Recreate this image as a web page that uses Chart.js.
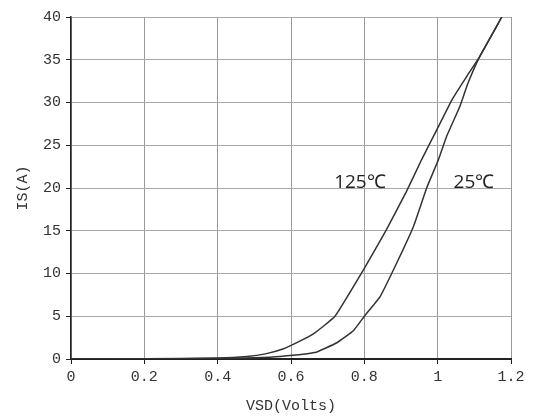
<!DOCTYPE html>
<html>
<head>
<meta charset="utf-8">
<script src="https://cdn.jsdelivr.net/npm/chart.js@4"></script>
<style>
  body { margin: 0; background: #fff; }
  #wrap { width: 537px; height: 417px; }
</style>
</head>
<body>
<div id="wrap"><canvas id="vsdChart" width="537" height="417"></canvas></div>
<script>
    // Source-drain diode forward characteristic
    var vsd125 = [0, 0.2, 0.4, 0.48, 0.53, 0.58, 0.62, 0.66, 0.72, 0.8, 0.86, 0.915, 0.956, 1.0, 1.04, 1.08, 1.115, 1.175];
    var is125 = [0, 0.02, 0.12, 0.3, 0.6, 1.2, 2.0, 2.9, 5.0, 10.6, 15.1, 19.6, 23.3, 27.0, 30.4, 33.1, 35.4, 40];
    var vsd25 = [0, 0.2, 0.4, 0.5, 0.57, 0.665, 0.725, 0.77, 0.8, 0.843, 0.888, 0.934, 0.97, 1.002, 1.025, 1.061, 1.083, 1.115, 1.175];
    var is25 = [0, 0.01, 0.05, 0.15, 0.3, 0.75, 1.9, 3.3, 5.0, 7.3, 11.2, 15.5, 20.0, 23.3, 26.1, 29.6, 32.3, 35.4, 40];
    var curveLabels = ['125℃', '25℃'];
    var xTicks = [0, 0.2, 0.4, 0.6, 0.8, 1, 1.2];

    function toPoints(xs, ys) {
        return xs.map(function (x, i) { return { x: x, y: ys[i] }; });
    }

    // curve names written beside the lines
    var curveText = {
        id: 'curveText',
        afterDatasetsDraw: function (chart) {
            var ctx = chart.ctx;
            var xs = chart.scales.x, ys = chart.scales.y;
            ctx.save();
            ctx.font = '19px "Open Sans"';
            ctx.fillStyle = '#222';
            ctx.textAlign = 'center';
            ctx.textBaseline = 'middle';
            ctx.fillText(curveLabels[0], xs.getPixelForValue(0.788), ys.getPixelForValue(20.6));
            ctx.fillText(curveLabels[1], xs.getPixelForValue(1.099), ys.getPixelForValue(20.6));
            ctx.restore();
        }
    };

    var tickFont = { family: '"Liberation Mono"', size: 15 };

    var ctx = document.getElementById('vsdChart').getContext('2d');
    new Chart(ctx, {
        type: 'scatter',
        data: {
            datasets: [{
                label: curveLabels[0],
                data: toPoints(vsd125, is125),
                showLine: true,
                borderColor: '#333',
                borderWidth: 1.5,
                pointRadius: 0,
                tension: 0.12
            }, {
                label: curveLabels[1],
                data: toPoints(vsd25, is25),
                showLine: true,
                borderColor: '#333',
                borderWidth: 1.5,
                pointRadius: 0,
                tension: 0.12
            }]
        },
        options: {
            responsive: false,
            animation: false,
            layout: { padding: { left: 0, right: 26, top: 17, bottom: 0 } },
            plugins: {
                legend: { display: false },
                tooltip: { enabled: false }
            },
            scales: {
                x: {
                    type: 'linear',
                    min: 0,
                    max: 1.2,
                    afterBuildTicks: function (axis) {
                        axis.ticks = xTicks.map(function (v) { return { value: v }; });
                    },
                    afterFit: function (axis) { axis.height = 58; },
                    ticks: {
                        color: '#333',
                        font: tickFont,
                        padding: 4,
                        maxRotation: 0,
                        callback: function (v) { return String(v); }
                    },
                    grid: { color: '#999', lineWidth: 1, tickLength: 5, tickColor: '#222' },
                    border: { color: '#222', width: 2 },
                    title: {
                        display: true,
                        text: 'VSD(Volts)',
                        color: '#333',
                        font: tickFont,
                        padding: { top: 0, bottom: 2 }
                    }
                },
                y: {
                    min: 0,
                    max: 40,
                    afterFit: function (axis) { axis.width = 71; },
                    ticks: {
                        stepSize: 5,
                        color: '#333',
                        font: tickFont,
                        padding: 5
                    },
                    grid: { color: '#aaa', lineWidth: 1, tickLength: 5, tickColor: '#222' },
                    border: { color: '#222', width: 1.5 },
                    title: {
                        display: true,
                        text: 'IS(A)',
                        color: '#333',
                        font: tickFont,
                        padding: { top: 14, bottom: 0 }
                    }
                }
            }
        },
        plugins: [curveText]
    });
</script>
</body>
</html>
